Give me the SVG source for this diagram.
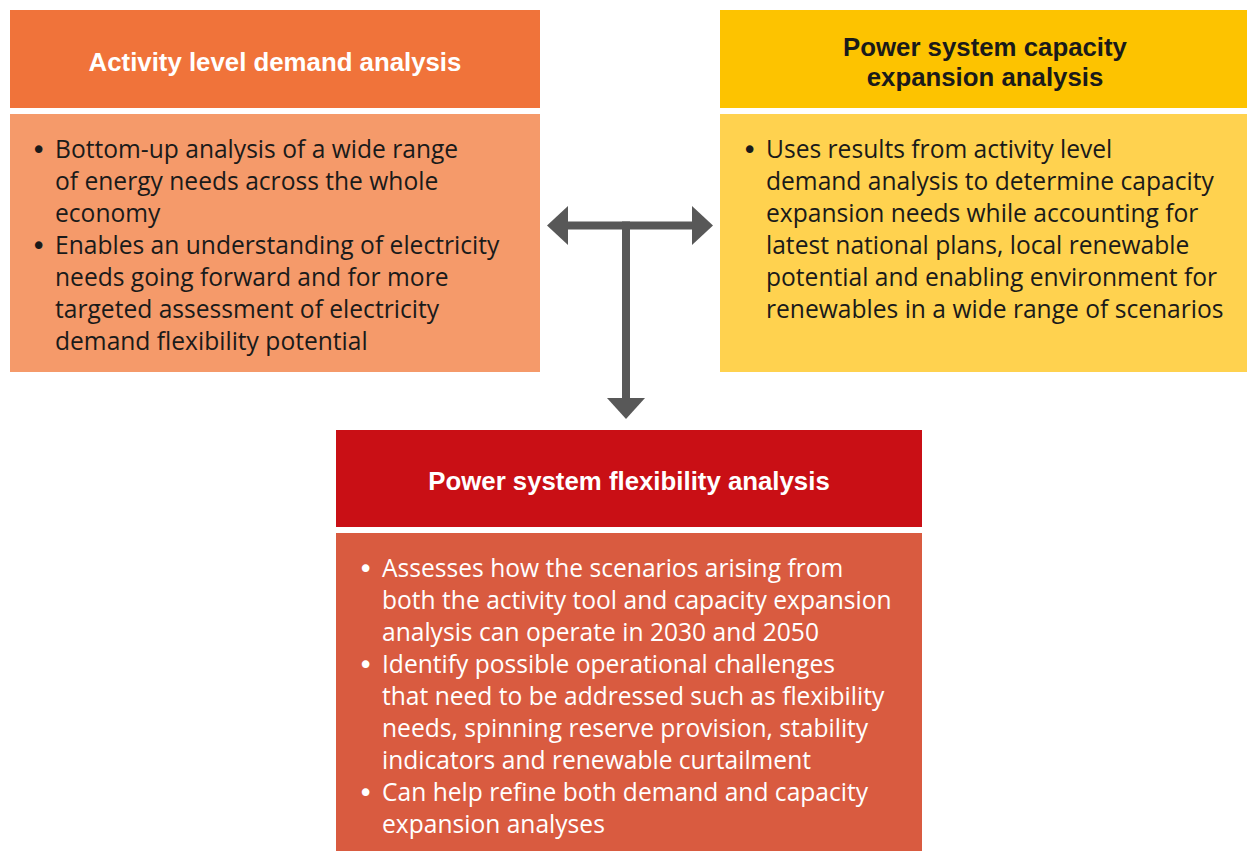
<svg xmlns="http://www.w3.org/2000/svg" width="1247" height="851" viewBox="0 0 1247 851">
<defs>
<style>
.h{font-family:"Liberation Sans",Arial,sans-serif;font-weight:bold;font-size:25.8px;text-anchor:middle}
.b{font-family:"Open Sans","Liberation Sans",sans-serif;font-size:24.6px}
.bl{font-family:"DejaVu Sans",sans-serif;font-size:26px}
.dk{fill:#1a1a1a}
.wt{fill:#ffffff}
</style>
</defs>
<rect width="1247" height="851" fill="#ffffff"/>
<g id="activity">
<rect x="10" y="10" width="530" height="98" fill="#F0733A"/>
<rect x="10" y="114" width="530" height="258" fill="#F59A6A"/>
<text class="h wt" x="275" y="71">Activity level demand analysis</text>
<g class="b dk">
<text class="bl" x="31" y="159">•</text>
<text x="55" y="158">Bottom-up analysis of a wide range</text>
<text x="55" y="190">of energy needs across the whole</text>
<text x="55" y="222">economy</text>
<text class="bl" x="31" y="255">•</text>
<text x="55" y="254">Enables an understanding of electricity</text>
<text x="55" y="286">needs going forward and for more</text>
<text x="55" y="318">targeted assessment of electricity</text>
<text x="55" y="350">demand flexibility potential</text>
</g>
</g>
<g id="capacity">
<rect x="720" y="10" width="527" height="98" fill="#FDC300"/>
<rect x="720" y="114" width="527" height="258" fill="#FFD24F"/>
<text class="h dk" x="985" y="56"><tspan x="985" y="56">Power system capacity</tspan><tspan x="985" y="86">expansion analysis</tspan></text>
<g class="b dk">
<text class="bl" x="742" y="159">•</text>
<text x="766" y="158">Uses results from activity level</text>
<text x="766" y="190">demand analysis to determine capacity</text>
<text x="766" y="222">expansion needs while accounting for</text>
<text x="766" y="254">latest national plans, local renewable</text>
<text x="766" y="286">potential and enabling environment for</text>
<text x="766" y="318">renewables in a wide range of scenarios</text>
</g>
</g>
<g id="flexibility">
<rect x="336" y="430" width="586" height="97" fill="#C90F15"/>
<rect x="336" y="533" width="586" height="318" fill="#D95B40"/>
<text class="h wt" x="629" y="490">Power system flexibility analysis</text>
<g class="b wt">
<text class="bl" x="358" y="578">•</text>
<text x="382" y="577">Assesses how the scenarios arising from</text>
<text x="382" y="609">both the activity tool and capacity expansion</text>
<text x="382" y="641">analysis can operate in 2030 and 2050</text>
<text class="bl" x="358" y="674">•</text>
<text x="382" y="673">Identify possible operational challenges</text>
<text x="382" y="705">that need to be addressed such as flexibility</text>
<text x="382" y="737">needs, spinning reserve provision, stability</text>
<text x="382" y="769">indicators and renewable curtailment</text>
<text class="bl" x="358" y="802">•</text>
<text x="382" y="801">Can help refine both demand and capacity</text>
<text x="382" y="833">expansion analyses</text>
</g>
</g>
<g id="connectors" fill="#585858">
<rect x="566" y="221.5" width="128" height="8"/>
<rect x="622" y="221.5" width="8" height="179"/>
<polygon points="547,225.5 568,206 568,245"/>
<polygon points="713,225.5 692,206 692,245"/>
<polygon points="607,398 645,398 626,419"/>
</g>
</svg>
